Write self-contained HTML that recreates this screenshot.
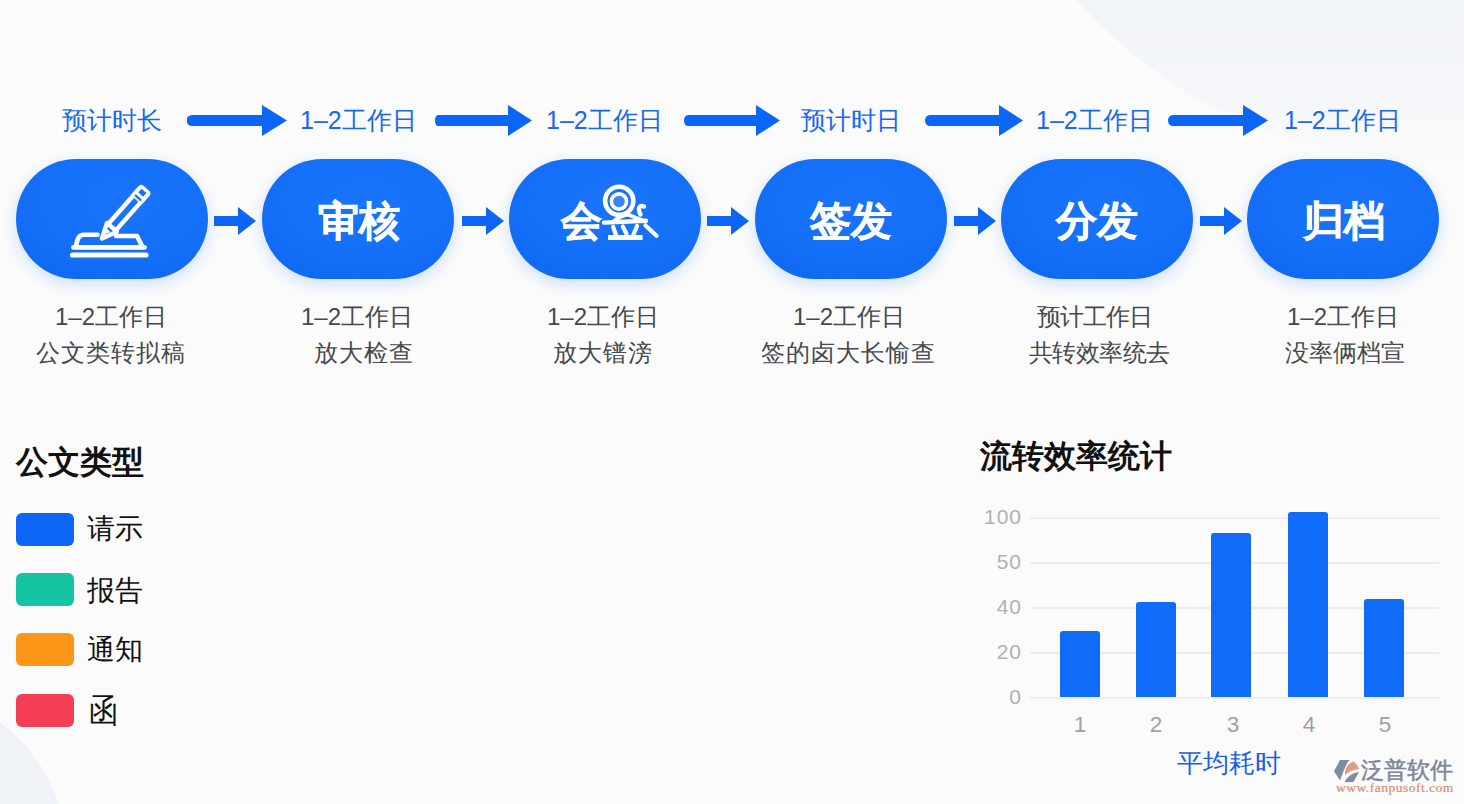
<!DOCTYPE html>
<html><head><meta charset="utf-8">
<style>
html,body{margin:0;padding:0;}
body{width:1464px;height:804px;overflow:hidden;position:relative;background:#fbfbfb;font-family:"Liberation Sans",sans-serif;}
.abs{position:absolute;}
.bg1{position:absolute;left:960px;top:-780px;width:940px;height:940px;border-radius:50%;background:linear-gradient(to bottom,#f1f4f8 83%,#f4f6f9 92%,#fafafa 99%);}
.bg2{position:absolute;left:-254px;top:692px;width:320px;height:320px;border-radius:50%;background:#eff2f7;}
.toplbl{position:absolute;top:104px;height:32px;line-height:32px;font-size:25px;color:#1569f2;white-space:nowrap;}
.arr{position:absolute;top:105px;height:31px;}
.pill{position:absolute;top:159px;width:192px;height:120px;border-radius:60px;background:radial-gradient(ellipse 70% 70% at 55% 35%,#1a74fb 0%,#1570f9 60%,#1069f3 100%);box-shadow:0 5px 16px rgba(20,115,255,0.2);}
.ptxt{position:absolute;top:199px;height:44px;line-height:44px;font-size:41px;font-weight:bold;color:#fff;white-space:nowrap;-webkit-text-stroke:0.5px #fff;}
.sarr{position:absolute;top:207px;height:28px;}
.blbl{position:absolute;font-size:24px;color:#45484d;white-space:nowrap;line-height:30px;height:30px;}
.l2{letter-spacing:1px;}
.sw{position:absolute;left:16px;width:58px;height:33px;border-radius:6px;}
.ltxt{position:absolute;left:87px;font-size:28px;color:#111;line-height:34px;height:34px;}
.grid{position:absolute;left:1030px;width:409px;height:2px;background:#eceef1;}
.ylab{position:absolute;width:61px;left:961px;text-align:right;font-size:21px;color:#adb1b8;line-height:20px;height:20px;letter-spacing:1px;}
.bar{position:absolute;width:40px;background:#0f6cf8;border-radius:3px 3px 0 0;}
.xlab{position:absolute;width:40px;text-align:center;font-size:22.5px;color:#9da1a8;top:714px;line-height:22px;}
</style></head><body>
<div class="bg1"></div>
<div class="bg2"></div>

<!-- top labels -->
<div class="toplbl" style="left:62px">预计时长</div>
<div class="toplbl" style="left:300px">1–2工作日</div>
<div class="toplbl" style="left:546px">1–2工作日</div>
<div class="toplbl" style="left:801px">预计时日</div>
<div class="toplbl" style="left:1036px">1–2工作日</div>
<div class="toplbl" style="left:1284px">1–2工作日</div>

<!-- top arrows -->
<svg class="arr" style="left:187px" width="100" height="31" viewBox="0 0 100 31"><path d="M5 10 H75 V0 L100 15.5 L75 31 V21 H5 A5 5 0 0 1 5 10 Z" fill="#0b66f6"/></svg>
<svg class="arr" style="left:435px" width="97" height="31" viewBox="0 0 97 31"><path d="M3 10 H73 V0 L97 15.5 L73 31 V21 H3 A3 5.5 0 0 1 3 10 Z" fill="#0b66f6"/></svg>
<svg class="arr" style="left:684px" width="96" height="31" viewBox="0 0 96 31"><path d="M4 10 H72 V0 L96 15.5 L72 31 V21 H4 A4 5.5 0 0 1 4 10 Z" fill="#0b66f6"/></svg>
<svg class="arr" style="left:925px" width="98" height="31" viewBox="0 0 98 31"><path d="M5 10 H74 V0 L98 15.5 L74 31 V21 H5 A5 5.5 0 0 1 5 10 Z" fill="#0b66f6"/></svg>
<svg class="arr" style="left:1168px" width="100" height="31" viewBox="0 0 100 31"><path d="M5 10 H75 V0 L100 15.5 L75 31 V21 H5 A5 5.5 0 0 1 5 10 Z" fill="#0b66f6"/></svg>

<!-- pills -->
<div class="pill" style="left:16px"></div>
<div class="pill" style="left:262px"></div>
<div class="pill" style="left:509px"></div>
<div class="pill" style="left:755px"></div>
<div class="pill" style="left:1001px"></div>
<div class="pill" style="left:1247px"></div>

<!-- pen icon -->
<svg class="abs" style="left:62px;top:180px" width="95" height="82" viewBox="0 0 95 82">
  <g fill="none" stroke="#fff" stroke-linecap="round" stroke-linejoin="round">
    <path d="M10.5 75 H84" stroke-width="5.2"/>
    <path d="M11.5 67.4 H82.5" stroke-width="4.8"/>
    <path d="M14 66 C15.5 58 17 54.8 22 54.8 H35.5" stroke-width="4.6"/>
    <path d="M54 56 H75 L80 66" stroke-width="4.6"/>
    <g transform="translate(40 58.5) rotate(-48.5)" stroke-width="4.4">
      <path d="M0 0 L15 -6.6 L15 6.6 Z"/>
      <path d="M6 -1.2 L10 -2.2 L10 1.2 Z" fill="#fff" stroke-width="1"/>
      <path d="M15 -5 H51 M15 5 H51"/>
      <path d="M52 -7.2 H63 A3.8 3.8 0 0 1 66.8 -3.4 V3.4 A3.8 3.8 0 0 1 63 7.2 H52 Z" fill="#fff" stroke-width="0.5"/>
      <path d="M54.5 -3.2 V3.2" stroke="#1570fa" stroke-width="2.2"/>
      <path d="M58.5 -3.2 H63.5 V3.2 H58.5 Z" fill="#1570fa" stroke="none"/>
    </g>
  </g>
</svg>

<div class="ptxt" style="left:318px">审核</div>
<div class="ptxt" style="left:561px">会</div>
<svg class="abs" style="left:600px;top:180px" width="62" height="64" viewBox="0 0 62 64">
  <g fill="none" stroke="#fff" stroke-linecap="round" stroke-linejoin="round">
    <circle cx="19.2" cy="20.8" r="14.1" stroke-width="4.6"/>
    <circle cx="19" cy="21.5" r="7.6" stroke-width="3.6" fill="#3a82f7"/>
    <path d="M44 26.5 C40 25 37 27.5 40.5 34.5" stroke-width="4.4"/>
    <path d="M4 42.6 L46 40.8" stroke-width="4.4"/>
    <path d="M14 41 Q22 35 28 34.5 L45 41.5" stroke-width="4"/>
    <path d="M13.2 47 L16 55 M22.8 46.5 L26.5 53.8 M37 46 L33.3 55" stroke-width="4.2"/>
    <path d="M8 57.6 H42.6" stroke-width="5" stroke-linecap="butt"/>
    <path d="M45.5 45.5 L56.5 55.8" stroke-width="4.2"/>
  </g>
</svg>
<div class="ptxt" style="left:810px">签发</div>
<div class="ptxt" style="left:1056px">分发</div>
<div class="ptxt" style="left:1303px">归档</div>

<!-- small arrows -->
<svg class="sarr" style="left:214px" width="42" height="28" viewBox="0 0 42 28"><path d="M0 9 H24 V0 L42 14 L24 28 V19 H0 Z" fill="#0b66f6"/></svg>
<svg class="sarr" style="left:462px" width="42" height="28" viewBox="0 0 42 28"><path d="M0 9 H24 V0 L42 14 L24 28 V19 H0 Z" fill="#0b66f6"/></svg>
<svg class="sarr" style="left:707px" width="42" height="28" viewBox="0 0 42 28"><path d="M0 9 H24 V0 L42 14 L24 28 V19 H0 Z" fill="#0b66f6"/></svg>
<svg class="sarr" style="left:954px" width="42" height="28" viewBox="0 0 42 28"><path d="M0 9 H24 V0 L42 14 L24 28 V19 H0 Z" fill="#0b66f6"/></svg>
<svg class="sarr" style="left:1200px" width="42" height="28" viewBox="0 0 42 28"><path d="M0 9 H24 V0 L42 14 L24 28 V19 H0 Z" fill="#0b66f6"/></svg>

<!-- bottom labels -->
<div class="blbl" style="left:55px;top:302px">1–2工作日</div>
<div class="blbl l2" style="left:36px;top:338px">公文类转拟稿</div>
<div class="blbl" style="left:301px;top:302px">1–2工作日</div>
<div class="blbl l2" style="left:314px;top:338px">放大检查</div>
<div class="blbl" style="left:547px;top:302px">1–2工作日</div>
<div class="blbl l2" style="left:553px;top:338px">放大镨滂</div>
<div class="blbl" style="left:793px;top:302px">1–2工作日</div>
<div class="blbl l2" style="left:761px;top:338px">签的卤大长愉查</div>
<div class="blbl" style="left:1037px;top:302px;letter-spacing:-1px">预计工作日</div>
<div class="blbl" style="left:1029px;top:338px;letter-spacing:-0.6px">共转效率统去</div>
<div class="blbl" style="left:1287px;top:302px">1–2工作日</div>
<div class="blbl" style="left:1285px;top:338px">没率俩档宣</div>

<!-- legend -->
<div class="abs" style="left:16px;top:442px;font-size:32px;font-weight:bold;color:#111;line-height:40px;">公文类型</div>
<div class="sw" style="top:513px;background:#0d66f6"></div>
<div class="ltxt" style="top:512px">请示</div>
<div class="sw" style="top:573px;background:#14c4a2"></div>
<div class="ltxt" style="top:574px">报告</div>
<div class="sw" style="top:633px;background:#fb9618"></div>
<div class="ltxt" style="top:633px">通知</div>
<div class="sw" style="top:694px;background:#f53f56"></div>
<div class="ltxt" style="top:691px;left:89px;transform:scale(1.03,1.2);transform-origin:0 0">函</div>

<!-- chart -->
<div class="abs" style="left:980px;top:436px;font-size:32px;font-weight:bold;color:#111;line-height:40px;white-space:nowrap">流转效率统计</div>
<div class="grid" style="top:517px"></div>
<div class="grid" style="top:562px"></div>
<div class="grid" style="top:607px"></div>
<div class="grid" style="top:652px"></div>
<div class="grid" style="top:697px"></div>
<div class="ylab" style="top:507px">100</div>
<div class="ylab" style="top:552px">50</div>
<div class="ylab" style="top:597px">40</div>
<div class="ylab" style="top:642px">20</div>
<div class="ylab" style="top:687px">0</div>
<div class="bar" style="left:1060px;top:631px;height:66px"></div>
<div class="bar" style="left:1136px;top:602px;height:95px"></div>
<div class="bar" style="left:1211px;top:533px;height:164px"></div>
<div class="bar" style="left:1288px;top:512px;height:185px"></div>
<div class="bar" style="left:1364px;top:599px;height:98px"></div>
<div class="xlab" style="left:1060px">1</div>
<div class="xlab" style="left:1136px">2</div>
<div class="xlab" style="left:1213px">3</div>
<div class="xlab" style="left:1289px">4</div>
<div class="xlab" style="left:1365px">5</div>
<div class="abs" style="left:1177px;top:747px;font-size:26px;color:#1a5fe6;line-height:32px;">平均耗时</div>

<!-- logo -->
<svg class="abs" style="left:1328px;top:752px" width="40" height="40" viewBox="0 0 40 40">
  <path d="M12 8 L21.5 8 C18 12 16 18 12 28.5 L6 19.2 Z" fill="#7f8ca4"/>
  <path d="M17 23.5 C16.5 17 19 12 25.5 9.5 C28 11 30 14 31 17 C24 18 20 20 17 23.5 Z" fill="#df9c82"/>
  <path d="M16.5 30.3 L25.5 30.1 L31 20 C24 21 19 25 16.5 30.3 Z" fill="#7f8ca4"/>
</svg>
<div class="abs" style="left:1361px;top:756px;font-size:23px;color:#7b879a;line-height:28px;-webkit-text-stroke:0.5px #7b879a;">泛普软件</div>
<div class="abs" style="left:1336px;top:780px;font-size:13.5px;font-family:'Liberation Serif',serif;color:#d98d6e;line-height:16px;letter-spacing:0.5px;-webkit-text-stroke:0.2px #d98d6e">www.fanpusoft.com</div>
</body></html>
